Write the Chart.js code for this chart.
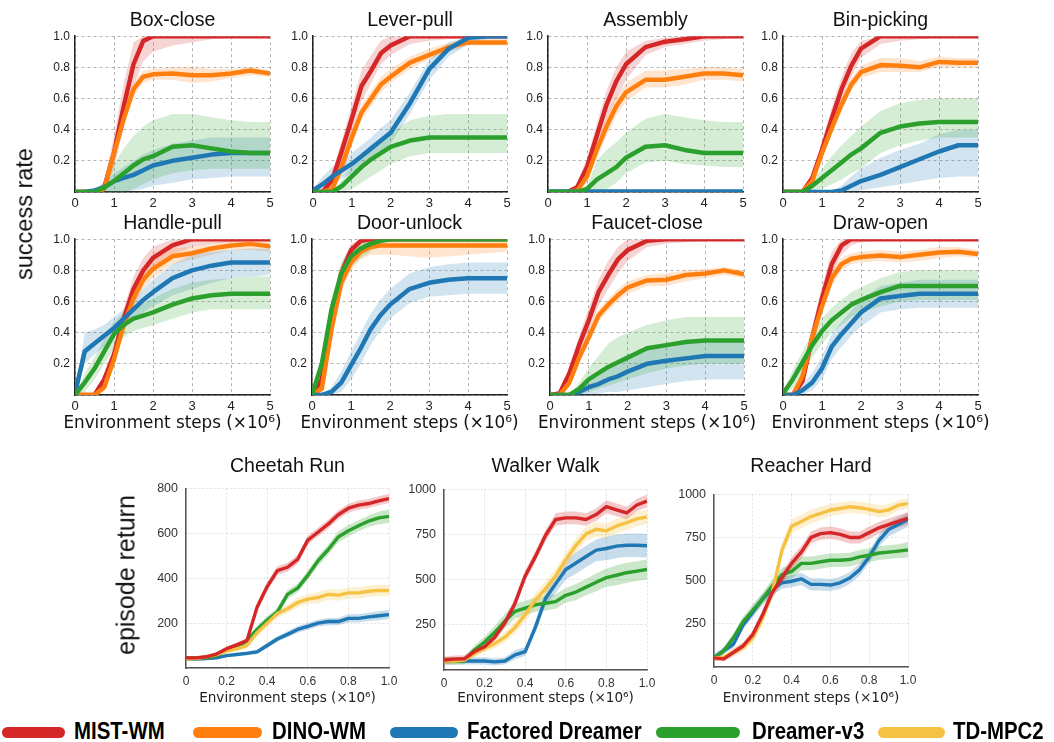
<!DOCTYPE html>
<html><head><meta charset="utf-8">
<script src="https://cdn.jsdelivr.net/npm/chart.js@4.4.1/dist/chart.umd.min.js"></script>
<style>
html,body{margin:0;padding:0;background:#fff;width:1054px;height:742px;overflow:hidden;position:relative;font-family:'Liberation Sans',Arial,sans-serif;}
.box{position:absolute;}
.t{position:absolute;white-space:nowrap;color:#111;line-height:1;transform:translate(-50%,-50%);}
.lg{position:absolute;height:11px;border-radius:6px;top:727px;}
.lt{position:absolute;top:719px;font-weight:bold;font-size:24px;line-height:24px;white-space:nowrap;transform:scaleX(0.85);transform-origin:left center;color:#000;}
</style></head><body>
<script>
// ---------------- DATA ----------------
const TOP_X = [0,0.25,0.5,0.75,1,1.25,1.5,1.75,2,2.5,3,3.5,4,4.5,5];
const TOP_X_TICKS = [0,1,2,3,4,5];
const TOP_X_LABELS = ['0','1','2','3','4','5'];
const TOP_Y_TICKS = [0,0.2,0.4,0.6,0.8,1.0];
const TOP_Y_LABELS = ['','0.2','0.4','0.6','0.8','1.0'];

// Box-close
const boxClose_MIST    = [0,0,0,0.03,0.25,0.55,0.82,0.97,1,1,1,1,1,1,1];
const boxClose_MIST_lo = [0,0,0,0,0.15,0.42,0.68,0.84,0.9,0.94,0.96,0.98,0.99,1,1];
const boxClose_MIST_hi = [0,0,0,0.07,0.36,0.7,0.96,1,1,1,1,1,1,1,1];
const boxClose_DINO    = [0,0,0,0.02,0.25,0.47,0.66,0.74,0.755,0.76,0.75,0.75,0.76,0.78,0.76];
const boxClose_DINO_lo = [0,0,0,0,0.2,0.42,0.61,0.7,0.72,0.72,0.7,0.71,0.73,0.75,0.74];
const boxClose_DINO_hi = [0,0,0,0.04,0.3,0.52,0.7,0.78,0.79,0.8,0.8,0.79,0.79,0.8,0.78];
const boxClose_FD      = [0,0,0.01,0.03,0.07,0.09,0.11,0.14,0.17,0.2,0.22,0.24,0.25,0.25,0.25];
const boxClose_FD_lo   = [0,0,0,0,0,0,0.01,0.02,0.04,0.06,0.08,0.09,0.1,0.1,0.1];
const boxClose_FD_hi   = [0,0,0.02,0.06,0.12,0.16,0.2,0.24,0.27,0.31,0.33,0.35,0.35,0.35,0.35];
const boxClose_DV3     = [0,0,0,0.03,0.07,0.12,0.17,0.21,0.23,0.29,0.3,0.28,0.26,0.25,0.25];
const boxClose_DV3_lo  = [0,0,0,0,0,0,0.02,0.05,0.08,0.12,0.14,0.15,0.15,0.15,0.15];
const boxClose_DV3_hi  = [0,0,0,0.06,0.18,0.28,0.36,0.42,0.46,0.5,0.5,0.48,0.46,0.45,0.45];

// Lever-pull
const leverPull_MIST    = [0,0,0.08,0.27,0.47,0.68,0.78,0.89,0.94,1,1,1,1,1,1];
const leverPull_MIST_lo = [0,0,0.04,0.2,0.38,0.58,0.7,0.82,0.88,0.95,0.97,0.98,0.99,1,1];
const leverPull_MIST_hi = [0,0.02,0.13,0.34,0.56,0.78,0.88,0.97,1,1,1,1,1,1,1];
const leverPull_DINO    = [0,0,0.02,0.17,0.35,0.51,0.6,0.69,0.74,0.83,0.88,0.93,0.96,0.96,0.96];
const leverPull_DINO_lo = [0,0,0,0.12,0.3,0.46,0.55,0.64,0.7,0.79,0.85,0.9,0.94,0.94,0.94];
const leverPull_DINO_hi = [0,0,0.05,0.22,0.4,0.56,0.65,0.74,0.79,0.87,0.92,0.96,0.98,0.98,0.98];
const leverPull_FD      = [0.01,0.05,0.1,0.14,0.18,0.23,0.28,0.33,0.38,0.57,0.79,0.92,0.99,1,1];
const leverPull_FD_lo   = [0,0.01,0.05,0.09,0.12,0.17,0.21,0.26,0.31,0.5,0.72,0.87,0.95,0.98,0.98];
const leverPull_FD_hi   = [0.02,0.1,0.16,0.2,0.25,0.3,0.35,0.41,0.46,0.64,0.85,0.96,1,1,1];
const leverPull_DV3     = [0,0,0,0.04,0.1,0.16,0.21,0.25,0.29,0.33,0.35,0.35,0.35,0.35,0.35];
const leverPull_DV3_lo  = [0,0,0,0,0.02,0.06,0.1,0.14,0.18,0.23,0.25,0.25,0.25,0.25,0.25];
const leverPull_DV3_hi  = [0,0,0,0.08,0.17,0.24,0.3,0.34,0.38,0.46,0.49,0.5,0.5,0.5,0.5];

// Assembly
const assembly_MIST    = [0,0,0,0.03,0.16,0.36,0.56,0.71,0.82,0.93,0.965,0.98,1,1,1];
const assembly_MIST_lo = [0,0,0,0.01,0.1,0.28,0.46,0.6,0.72,0.88,0.93,0.95,0.97,0.98,0.99];
const assembly_MIST_hi = [0,0,0,0.06,0.22,0.44,0.65,0.8,0.9,0.97,0.99,1,1,1,1];
const assembly_DINO    = [0,0,0,0.01,0.1,0.27,0.42,0.55,0.64,0.72,0.72,0.74,0.76,0.76,0.75];
const assembly_DINO_lo = [0,0,0,0,0.06,0.22,0.36,0.49,0.58,0.67,0.67,0.69,0.72,0.72,0.71];
const assembly_DINO_hi = [0,0,0,0.02,0.14,0.32,0.48,0.61,0.7,0.78,0.78,0.79,0.8,0.8,0.79];
const assembly_FD      = [0.004,0.004,0.004,0.004,0.004,0.004,0.004,0.004,0.004,0.004,0.004,0.004,0.004,0.004,0.004];
const assembly_FD_lo   = [0,0,0,0,0,0,0,0,0,0,0,0,0,0,0];
const assembly_FD_hi   = [0.008,0.008,0.008,0.008,0.008,0.008,0.008,0.008,0.008,0.008,0.008,0.008,0.008,0.008,0.008];
const assembly_DV3     = [0,0,0,0,0.02,0.08,0.12,0.16,0.22,0.29,0.3,0.27,0.25,0.25,0.25];
const assembly_DV3_lo  = [0,0,0,0,0,0,0.02,0.06,0.12,0.19,0.2,0.18,0.17,0.16,0.16];
const assembly_DV3_hi  = [0,0,0,0,0.04,0.2,0.27,0.32,0.38,0.47,0.5,0.48,0.46,0.45,0.45];

// Bin-picking
const binPicking_MIST    = [0,0,0,0.09,0.27,0.47,0.66,0.81,0.92,1,1,1,1,1,1];
const binPicking_MIST_lo = [0,0,0,0.06,0.22,0.41,0.59,0.74,0.86,0.95,0.97,0.98,0.99,1,1];
const binPicking_MIST_hi = [0,0,0,0.12,0.33,0.54,0.74,0.89,0.97,1,1,1,1,1,1];
const binPicking_DINO    = [0,0,0,0.07,0.25,0.41,0.56,0.69,0.77,0.815,0.81,0.8,0.835,0.83,0.83];
const binPicking_DINO_lo = [0,0,0,0.04,0.21,0.37,0.52,0.65,0.73,0.77,0.77,0.77,0.8,0.8,0.8];
const binPicking_DINO_hi = [0,0,0,0.1,0.29,0.45,0.6,0.73,0.81,0.86,0.86,0.84,0.87,0.86,0.86];
const binPicking_FD      = [0,0,0,0,0,0,0.01,0.04,0.07,0.11,0.16,0.21,0.26,0.3,0.3];
const binPicking_FD_lo   = [0,0,0,0,0,0,0,0,0.01,0.03,0.05,0.07,0.09,0.1,0.1];
const binPicking_FD_hi   = [0,0,0,0,0,0,0.04,0.1,0.15,0.22,0.27,0.31,0.37,0.4,0.4];
const binPicking_DV3     = [0,0,0,0.04,0.09,0.14,0.19,0.24,0.28,0.38,0.42,0.44,0.45,0.45,0.45];
const binPicking_DV3_lo  = [0,0,0,0.01,0.02,0.05,0.08,0.12,0.15,0.25,0.3,0.33,0.35,0.35,0.35];
const binPicking_DV3_hi  = [0,0,0,0.07,0.15,0.23,0.3,0.36,0.42,0.52,0.57,0.59,0.6,0.6,0.6];

// Handle-pull
const handlePull_MIST    = [0,0,0,0.1,0.26,0.49,0.68,0.8,0.88,0.96,1,1,1,1,1];
const handlePull_MIST_lo = [0,0,0,0.06,0.2,0.42,0.6,0.72,0.8,0.9,0.95,0.97,0.98,0.99,1];
const handlePull_MIST_hi = [0,0,0,0.14,0.32,0.56,0.76,0.88,0.95,1,1,1,1,1,1];
const handlePull_DINO    = [0,0,0,0.05,0.23,0.45,0.62,0.74,0.81,0.89,0.91,0.94,0.96,0.97,0.955];
const handlePull_DINO_lo = [0,0,0,0.02,0.18,0.4,0.56,0.68,0.75,0.84,0.87,0.9,0.93,0.93,0.92];
const handlePull_DINO_hi = [0,0,0,0.09,0.28,0.5,0.68,0.8,0.87,0.94,0.95,0.97,0.99,1,0.99];
const handlePull_FD      = [0.01,0.28,0.33,0.38,0.43,0.49,0.55,0.61,0.66,0.75,0.8,0.83,0.85,0.85,0.85];
const handlePull_FD_lo   = [0,0.2,0.26,0.31,0.37,0.43,0.48,0.53,0.57,0.64,0.68,0.72,0.75,0.76,0.77];
const handlePull_FD_hi   = [0.02,0.4,0.42,0.45,0.5,0.55,0.61,0.68,0.74,0.84,0.9,0.92,0.93,0.94,0.94];
const handlePull_DV3     = [0,0.08,0.17,0.28,0.39,0.45,0.49,0.51,0.53,0.58,0.62,0.64,0.65,0.65,0.65];
const handlePull_DV3_lo  = [0,0.02,0.1,0.2,0.3,0.37,0.41,0.43,0.45,0.49,0.53,0.55,0.55,0.55,0.55];
const handlePull_DV3_hi  = [0,0.14,0.24,0.36,0.47,0.53,0.57,0.59,0.62,0.68,0.72,0.74,0.75,0.76,0.76];

// Door-unlock
const doorUnlock_MIST    = [0,0.1,0.5,0.78,0.93,0.99,1,1,1,1,1,1,1,1,1];
const doorUnlock_MIST_lo = [0,0.06,0.44,0.72,0.88,0.96,0.98,0.99,1,1,1,1,1,1,1];
const doorUnlock_MIST_hi = [0,0.14,0.56,0.84,0.97,1,1,1,1,1,1,1,1,1,1];
const doorUnlock_DINO    = [0,0.04,0.42,0.72,0.85,0.92,0.95,0.96,0.96,0.96,0.96,0.96,0.96,0.96,0.96];
const doorUnlock_DINO_lo = [0,0.02,0.36,0.66,0.8,0.87,0.9,0.9,0.9,0.89,0.88,0.89,0.9,0.91,0.92];
const doorUnlock_DINO_hi = [0,0.07,0.48,0.78,0.9,0.96,0.99,1,1,1,1,1,1,1,1];
const doorUnlock_FD      = [0,0,0.02,0.08,0.19,0.3,0.42,0.51,0.58,0.68,0.72,0.74,0.75,0.75,0.75];
const doorUnlock_FD_lo   = [0,0,0,0.02,0.1,0.2,0.32,0.41,0.49,0.59,0.63,0.64,0.65,0.65,0.65];
const doorUnlock_FD_hi   = [0,0,0.05,0.15,0.28,0.4,0.52,0.61,0.68,0.78,0.82,0.84,0.85,0.85,0.85];
const doorUnlock_DV3     = [0,0.2,0.55,0.78,0.89,0.94,0.97,0.99,1,1,1,1,1,1,1];
const doorUnlock_DV3_lo  = [0,0.15,0.48,0.7,0.82,0.88,0.92,0.96,0.99,1,1,1,1,1,1];
const doorUnlock_DV3_hi  = [0,0.25,0.62,0.85,0.95,0.99,1,1,1,1,1,1,1,1,1];

// Faucet-close
const faucetClose_MIST    = [0,0.01,0.14,0.32,0.48,0.66,0.77,0.87,0.93,0.99,1,1,1,1,1];
const faucetClose_MIST_lo = [0,0,0.1,0.26,0.4,0.57,0.68,0.78,0.86,0.95,0.97,0.98,0.99,1,1];
const faucetClose_MIST_hi = [0,0.03,0.18,0.38,0.56,0.74,0.86,0.95,1,1,1,1,1,1,1];
const faucetClose_DINO    = [0,0,0.08,0.24,0.37,0.51,0.58,0.64,0.69,0.735,0.74,0.77,0.78,0.8,0.775];
const faucetClose_DINO_lo = [0,0,0.05,0.2,0.33,0.47,0.54,0.6,0.65,0.7,0.7,0.73,0.75,0.77,0.75];
const faucetClose_DINO_hi = [0,0,0.11,0.28,0.41,0.55,0.62,0.68,0.73,0.77,0.78,0.8,0.81,0.82,0.8];
const faucetClose_FD      = [0,0,0,0.02,0.05,0.07,0.1,0.12,0.15,0.2,0.22,0.235,0.25,0.25,0.25];
const faucetClose_FD_lo   = [0,0,0,0,0,0.01,0.02,0.02,0.03,0.05,0.07,0.09,0.1,0.1,0.1];
const faucetClose_FD_hi   = [0,0,0,0.04,0.08,0.12,0.17,0.21,0.24,0.29,0.32,0.34,0.35,0.35,0.35];
const faucetClose_DV3     = [0,0,0,0.04,0.1,0.14,0.18,0.21,0.24,0.3,0.32,0.34,0.35,0.35,0.35];
const faucetClose_DV3_lo  = [0,0,0,0,0.02,0.04,0.06,0.08,0.1,0.14,0.17,0.19,0.2,0.2,0.2];
const faucetClose_DV3_hi  = [0,0,0,0.08,0.17,0.25,0.33,0.37,0.4,0.45,0.48,0.5,0.5,0.5,0.5];

// Draw-open
const drawOpen_MIST    = [0,0,0.09,0.37,0.62,0.84,0.96,1,1,1,1,1,1,1,1];
const drawOpen_MIST_lo = [0,0,0.05,0.3,0.55,0.77,0.9,0.96,0.98,0.99,1,1,1,1,1];
const drawOpen_MIST_hi = [0,0.01,0.14,0.44,0.7,0.92,1,1,1,1,1,1,1,1,1];
const drawOpen_DINO    = [0,0,0.12,0.37,0.57,0.75,0.84,0.875,0.885,0.895,0.885,0.9,0.915,0.92,0.905];
const drawOpen_DINO_lo = [0,0,0.08,0.32,0.52,0.7,0.8,0.84,0.85,0.86,0.85,0.86,0.88,0.89,0.88];
const drawOpen_DINO_hi = [0,0,0.16,0.42,0.62,0.8,0.88,0.91,0.92,0.93,0.92,0.93,0.95,0.95,0.93];
const drawOpen_FD      = [0,0,0.03,0.08,0.17,0.31,0.39,0.46,0.53,0.62,0.635,0.65,0.65,0.65,0.65];
const drawOpen_FD_lo   = [0,0,0,0.03,0.1,0.23,0.31,0.38,0.44,0.53,0.55,0.56,0.56,0.56,0.56];
const drawOpen_FD_hi   = [0,0.02,0.07,0.14,0.25,0.39,0.47,0.54,0.61,0.7,0.72,0.74,0.74,0.74,0.74];
const drawOpen_DV3     = [0.01,0.1,0.21,0.32,0.41,0.48,0.53,0.58,0.61,0.66,0.7,0.7,0.7,0.7,0.7];
const drawOpen_DV3_lo  = [0,0.04,0.14,0.24,0.33,0.4,0.45,0.5,0.53,0.57,0.6,0.61,0.61,0.61,0.61];
const drawOpen_DV3_hi  = [0.02,0.16,0.28,0.4,0.49,0.56,0.61,0.66,0.69,0.75,0.79,0.8,0.8,0.8,0.8];

// Bottom (DMC) panels
const BOT_X = [0,0.05,0.1,0.15,0.2,0.25,0.3,0.35,0.4,0.45,0.5,0.55,0.6,0.65,0.7,0.75,0.8,0.85,0.9,0.95,1.0];
const BOT_X_TICKS = [0,0.2,0.4,0.6,0.8,1.0];
const BOT_X_LABELS = ['0','0.2','0.4','0.6','0.8','1.0'];
const CHEETAH_Y_TICKS = [0,200,400,600,800];
const CHEETAH_Y_LABELS = ['','200','400','600','800'];
const DMC_Y_TICKS = [0,250,500,750,1000];
const DMC_Y_LABELS = ['','250','500','750','1000'];

const cheetah_MIST     = [45,45,50,62,86,103,122,271,363,434,449,484,570,605,641,683,712,726,733,745,755];
const cheetah_MIST_sd  = [8,8,8,8,10,10,12,18,20,20,20,20,20,20,20,20,20,20,20,20,20];
const cheetah_DV3      = [45,45,45,55,79,90,122,172,214,250,328,356,413,477,527,584,612,634,655,669,676];
const cheetah_DV3_sd   = [8,8,8,8,8,10,12,15,18,18,20,20,20,22,22,25,25,25,25,28,30];
const cheetah_TD       = [40,42,50,60,75,85,100,157,200,243,264,292,307,314,328,325,335,335,342,346,345];
const cheetah_TD_sd    = [8,8,8,8,8,10,10,15,18,20,20,22,22,25,25,25,25,25,25,25,25];
const cheetah_FD       = [40,40,42,45,55,60,65,72,100,129,150,172,186,200,207,207,221,221,228,233,238];
const cheetah_FD_sd    = [6,6,6,6,6,8,8,10,12,12,14,15,15,15,16,16,18,18,18,20,20];

const walker_MIST      = [55,60,62,102,129,182,262,370,521,628,745,834,843,843,834,861,905,887,870,914,936];
const walker_MIST_sd   = [20,20,20,20,20,20,25,30,30,30,30,35,35,35,35,35,35,35,35,35,35];
const walker_TD        = [50,50,55,90,120,146,182,236,307,387,450,521,611,691,754,780,771,798,816,837,848];
const walker_TD_sd     = [20,20,20,20,20,25,30,35,40,40,40,40,40,40,40,40,40,40,40,40,40];
const walker_FD        = [50,50,50,50,50,45,50,84,102,236,396,477,557,593,629,664,673,686,691,691,688];
const walker_FD_sd     = [20,20,20,20,20,20,20,25,25,30,40,50,55,60,60,60,65,65,65,65,65];
const walker_DV3       = [50,50,52,111,155,209,271,325,343,361,370,379,414,432,459,486,512,525,539,548,557];
const walker_DV3_sd    = [20,20,20,25,30,35,40,40,40,40,40,40,40,45,45,50,50,55,55,55,55];

const reacher_TD       = [53,57,85,113,169,282,432,676,816,844,872,891,910,919,929,923,914,901,910,938,947];
const reacher_TD_sd    = [20,20,25,25,30,35,40,40,40,40,40,40,35,35,35,35,35,35,35,30,30];
const reacher_MIST     = [53,47,85,122,188,301,432,516,601,666,751,773,779,769,751,751,779,807,826,844,863];
const reacher_MIST_sd  = [15,15,20,20,25,30,35,35,35,35,35,35,35,35,35,35,35,35,35,35,35];
const reacher_FD       = [55,94,132,244,319,394,451,488,497,511,479,479,475,488,516,563,638,732,797,826,854];
const reacher_FD_sd    = [20,20,20,25,30,30,35,35,35,35,35,35,35,35,35,35,35,35,40,40,40];
const reacher_DV3      = [50,94,169,263,329,394,469,535,554,601,601,610,619,619,623,638,648,661,666,672,679];
const reacher_DV3_sd   = [20,20,25,30,35,35,40,40,40,40,40,40,40,40,40,40,40,40,40,40,45];

const LEGEND_NAMES = ['MIST-WM','DINO-WM','Factored Dreamer','Dreamer-v3','TD-MPC2'];
const COLORS = {MIST:'#d62728', DINO:'#ff7f0e', FD:'#1f77b4', DV3:'#2ca02c', TD:'#f6c244'};
const LEGEND_COLORS = [COLORS.MIST, COLORS.DINO, COLORS.FD, COLORS.DV3, COLORS.TD];

// ---------------- HELPERS ----------------
function rgba(hex, a){
  const n = parseInt(hex.slice(1),16);
  return `rgba(${(n>>16)&255},${(n>>8)&255},${n&255},${a})`;
}
function pts(xs, ys){ return xs.map((x,i)=>({x:x, y:ys[i]})); }

function buildDatasets(xs, series, lineW, bandAlpha){
  const ds = [];
  series.forEach(s=>{
    const loIdx = ds.length;
    ds.push({data:pts(xs,s.lo), borderColor:'transparent', backgroundColor:'transparent', borderWidth:0, pointRadius:0, fill:false, order:50+s.order});
    ds.push({data:pts(xs,s.hi), borderColor:'transparent', backgroundColor:rgba(s.color,bandAlpha), borderWidth:0, pointRadius:0, fill:loIdx, order:50+s.order});
  });
  series.forEach(s=>{
    ds.push({data:pts(xs,s.mean), borderColor:s.color, borderWidth:lineW, pointRadius:0, fill:false, tension:0, borderJoinStyle:'round', borderCapStyle:'butt', order:s.order});
  });
  return ds;
}

function addText(txt, cx, cy, css){
  const d = document.createElement('div');
  d.className = 't';
  d.textContent = txt;
  d.style.left = cx+'px'; d.style.top = cy+'px';
  Object.assign(d.style, css||{});
  document.body.appendChild(d);
  return d;
}

function makePanel(p){
  const div = document.createElement('div');
  div.className = 'box';
  const W = p.right - p.left + p.yW + p.padR;
  const H = p.bottom - p.top + p.padT + p.xH;
  div.style.left = (p.left - p.yW)+'px';
  div.style.top = (p.top - p.padT)+'px';
  div.style.width = W+'px';
  div.style.height = H+'px';
  const cv = document.createElement('canvas');
  div.appendChild(cv);
  document.body.appendChild(div);
  const st = p.style;
  new Chart(cv, {
    type:'line',
    data:{datasets:p.datasets},
    options:{
      responsive:true, maintainAspectRatio:false, animation:false, events:[],
      layout:{padding:{top:p.padT, right:p.padR, left:0, bottom:0}},
      plugins:{legend:{display:false}, tooltip:{enabled:false}, title:{display:false}},
      scales:{
        x:{type:'linear', min:p.xMin, max:p.xMax,
           afterBuildTicks:s=>{ s.ticks = p.xTicks.map(v=>({value:v})); },
           afterFit:s=>{ s.height = p.xH; },
           ticks:{autoSkip:false, maxRotation:0, padding:st.xPad, color:st.tickColor,
                  font:{family:st.tickFamily, size:st.xTickSize},
                  callback:(v,i)=>p.xLabels[i]},
           grid:{color:st.gridColor, lineWidth:1, drawTicks:false},
           border:{display:true, color:st.axisColor, width:st.axisWidth, dash:st.gridDash}},
        y:{type:'linear', min:p.yMin, max:p.yMax,
           afterBuildTicks:s=>{ s.ticks = p.yTicks.map(v=>({value:v})); },
           afterFit:s=>{ s.width = p.yW; },
           ticks:{autoSkip:false, padding:st.yPad, color:st.tickColor,
                  font:{family:st.tickFamily, size:st.yTickSize},
                  callback:(v,i)=>p.yLabels[i]},
           grid:{color:st.gridColor, lineWidth:1, drawTicks:false},
           border:{display:true, color:st.axisColor, width:st.axisWidth, dash:st.gridDash}}
      }
    }
  });
}

const TOP_STYLE = {xPad:4, yPad:5, tickColor:'#222', tickFamily:"'Liberation Sans', Arial, sans-serif",
  xTickSize:13, yTickSize:12, gridColor:'#b3b3b3', gridDash:[3,3], axisColor:'#222', axisWidth:1.5};
const BOT_STYLE = {xPad:6, yPad:8, tickColor:'#333', tickFamily:"'Liberation Sans', Arial, sans-serif",
  xTickSize:12, yTickSize:12.5, gridColor:'#dedede', gridDash:[2,2], axisColor:'#555', axisWidth:1.5};

const TOP_DATA = {
  boxClose:{MIST:boxClose_MIST,MIST_lo:boxClose_MIST_lo,MIST_hi:boxClose_MIST_hi,DINO:boxClose_DINO,DINO_lo:boxClose_DINO_lo,DINO_hi:boxClose_DINO_hi,FD:boxClose_FD,FD_lo:boxClose_FD_lo,FD_hi:boxClose_FD_hi,DV3:boxClose_DV3,DV3_lo:boxClose_DV3_lo,DV3_hi:boxClose_DV3_hi},
  leverPull:{MIST:leverPull_MIST,MIST_lo:leverPull_MIST_lo,MIST_hi:leverPull_MIST_hi,DINO:leverPull_DINO,DINO_lo:leverPull_DINO_lo,DINO_hi:leverPull_DINO_hi,FD:leverPull_FD,FD_lo:leverPull_FD_lo,FD_hi:leverPull_FD_hi,DV3:leverPull_DV3,DV3_lo:leverPull_DV3_lo,DV3_hi:leverPull_DV3_hi},
  assembly:{MIST:assembly_MIST,MIST_lo:assembly_MIST_lo,MIST_hi:assembly_MIST_hi,DINO:assembly_DINO,DINO_lo:assembly_DINO_lo,DINO_hi:assembly_DINO_hi,FD:assembly_FD,FD_lo:assembly_FD_lo,FD_hi:assembly_FD_hi,DV3:assembly_DV3,DV3_lo:assembly_DV3_lo,DV3_hi:assembly_DV3_hi},
  binPicking:{MIST:binPicking_MIST,MIST_lo:binPicking_MIST_lo,MIST_hi:binPicking_MIST_hi,DINO:binPicking_DINO,DINO_lo:binPicking_DINO_lo,DINO_hi:binPicking_DINO_hi,FD:binPicking_FD,FD_lo:binPicking_FD_lo,FD_hi:binPicking_FD_hi,DV3:binPicking_DV3,DV3_lo:binPicking_DV3_lo,DV3_hi:binPicking_DV3_hi},
  handlePull:{MIST:handlePull_MIST,MIST_lo:handlePull_MIST_lo,MIST_hi:handlePull_MIST_hi,DINO:handlePull_DINO,DINO_lo:handlePull_DINO_lo,DINO_hi:handlePull_DINO_hi,FD:handlePull_FD,FD_lo:handlePull_FD_lo,FD_hi:handlePull_FD_hi,DV3:handlePull_DV3,DV3_lo:handlePull_DV3_lo,DV3_hi:handlePull_DV3_hi},
  doorUnlock:{MIST:doorUnlock_MIST,MIST_lo:doorUnlock_MIST_lo,MIST_hi:doorUnlock_MIST_hi,DINO:doorUnlock_DINO,DINO_lo:doorUnlock_DINO_lo,DINO_hi:doorUnlock_DINO_hi,FD:doorUnlock_FD,FD_lo:doorUnlock_FD_lo,FD_hi:doorUnlock_FD_hi,DV3:doorUnlock_DV3,DV3_lo:doorUnlock_DV3_lo,DV3_hi:doorUnlock_DV3_hi},
  faucetClose:{MIST:faucetClose_MIST,MIST_lo:faucetClose_MIST_lo,MIST_hi:faucetClose_MIST_hi,DINO:faucetClose_DINO,DINO_lo:faucetClose_DINO_lo,DINO_hi:faucetClose_DINO_hi,FD:faucetClose_FD,FD_lo:faucetClose_FD_lo,FD_hi:faucetClose_FD_hi,DV3:faucetClose_DV3,DV3_lo:faucetClose_DV3_lo,DV3_hi:faucetClose_DV3_hi},
  drawOpen:{MIST:drawOpen_MIST,MIST_lo:drawOpen_MIST_lo,MIST_hi:drawOpen_MIST_hi,DINO:drawOpen_DINO,DINO_lo:drawOpen_DINO_lo,DINO_hi:drawOpen_DINO_hi,FD:drawOpen_FD,FD_lo:drawOpen_FD_lo,FD_hi:drawOpen_FD_hi,DV3:drawOpen_DV3,DV3_lo:drawOpen_DV3_lo,DV3_hi:drawOpen_DV3_hi}
};
function topSeriesFrom(d){
  return [
    {color:COLORS.MIST, mean:d.MIST, lo:d.MIST_lo, hi:d.MIST_hi, order:4},
    {color:COLORS.DINO, mean:d.DINO, lo:d.DINO_lo, hi:d.DINO_hi, order:3},
    {color:COLORS.FD,   mean:d.FD,   lo:d.FD_lo,   hi:d.FD_hi,   order:2},
    {color:COLORS.DV3,  mean:d.DV3,  lo:d.DV3_lo,  hi:d.DV3_hi,  order:1}
  ];
}
function botSeries(mean, sd, color, order){
  return {color, mean, lo:mean.map((m,i)=>m-sd[i]), hi:mean.map((m,i)=>m+sd[i]), order};
}

// ---------------- TOP PANELS ----------------
const TOP_PANELS = [
  {key:'boxClose',   title:'Box-close',    left:75,  right:270, top:34,  bottom:192},
  {key:'leverPull',  title:'Lever-pull',   left:313, right:507, top:34,  bottom:192},
  {key:'assembly',   title:'Assembly',     left:548, right:743, top:34,  bottom:192},
  {key:'binPicking', title:'Bin-picking',  left:783, right:978, top:34,  bottom:192},
  {key:'handlePull', title:'Handle-pull',  left:75,  right:270, top:237, bottom:395},
  {key:'doorUnlock', title:'Door-unlock',  left:312, right:507, top:237, bottom:395},
  {key:'faucetClose',title:'Faucet-close', left:550, right:744, top:237, bottom:395},
  {key:'drawOpen',   title:'Draw-open',    left:783, right:978, top:237, bottom:395}
];
TOP_PANELS.forEach((tp, idx)=>{
  makePanel({left:tp.left, right:tp.right, top:tp.top, bottom:tp.bottom, yW:44, xH:22, padT:10, padR:14,
    xMin:0, xMax:5, xTicks:TOP_X_TICKS, xLabels:TOP_X_LABELS,
    yMin:0, yMax:1, yTicks:TOP_Y_TICKS, yLabels:TOP_Y_LABELS,
    style:TOP_STYLE,
    datasets:buildDatasets(TOP_X, topSeriesFrom(TOP_DATA[tp.key]), 4.5, 0.2)});
  addText(tp.title, (tp.left+tp.right)/2, tp.top - 13.7, {fontSize:'19.5px', fontFamily:"'Liberation Sans', Arial, sans-serif"});
  if (idx >= 4) addText('Environment steps (×10⁶)', (tp.left+tp.right)/2, 422, {fontSize:'16.8px', fontFamily:"'DejaVu Sans', sans-serif"});
});
addText('success rate', 25, 214, {fontSize:'23.5px', transform:'translate(-50%,-50%) rotate(-90deg)'});

// ---------------- BOTTOM PANELS ----------------
const BOT_PANELS = [
  {title:'Cheetah Run', left:186, right:389, top:483, bottom:668, yMax:800, yTicks:CHEETAH_Y_TICKS, yLabels:CHEETAH_Y_LABELS,
   series:[botSeries(cheetah_MIST,cheetah_MIST_sd,COLORS.MIST,1), botSeries(cheetah_TD,cheetah_TD_sd,COLORS.TD,2),
           botSeries(cheetah_DV3,cheetah_DV3_sd,COLORS.DV3,3), botSeries(cheetah_FD,cheetah_FD_sd,COLORS.FD,4)]},
  {title:'Walker Walk', left:444, right:647, top:484, bottom:670, yMax:1000, yTicks:DMC_Y_TICKS, yLabels:DMC_Y_LABELS,
   series:[botSeries(walker_MIST,walker_MIST_sd,COLORS.MIST,1), botSeries(walker_TD,walker_TD_sd,COLORS.TD,2),
           botSeries(walker_DV3,walker_DV3_sd,COLORS.DV3,3), botSeries(walker_FD,walker_FD_sd,COLORS.FD,4)]},
  {title:'Reacher Hard', left:714, right:908, top:489, bottom:667, yMax:1000, yTicks:DMC_Y_TICKS, yLabels:DMC_Y_LABELS,
   series:[botSeries(reacher_MIST,reacher_MIST_sd,COLORS.MIST,1), botSeries(reacher_TD,reacher_TD_sd,COLORS.TD,2),
           botSeries(reacher_DV3,reacher_DV3_sd,COLORS.DV3,3), botSeries(reacher_FD,reacher_FD_sd,COLORS.FD,4)]}
];
BOT_PANELS.forEach((bp)=>{
  makePanel({left:bp.left, right:bp.right, top:bp.top, bottom:bp.bottom, yW:50, xH:26, padT:10, padR:16,
    xMin:0, xMax:1, xTicks:BOT_X_TICKS, xLabels:BOT_X_LABELS,
    yMin:0, yMax:bp.yMax, yTicks:bp.yTicks, yLabels:bp.yLabels,
    style:BOT_STYLE,
    datasets:buildDatasets(BOT_X, bp.series, 3.4, 0.25)});
  addText(bp.title, (bp.left+bp.right)/2, 466, {fontSize:'19.5px'});
  addText('Environment steps (×10⁶)', (bp.left+bp.right)/2, 698, {fontSize:'13.6px', fontFamily:"'DejaVu Sans', sans-serif", color:'#222'});
});
addText('episode return', 126, 575, {fontSize:'25px', transform:'translate(-50%,-50%) rotate(-90deg)'});

// ---------------- LEGEND ----------------
const LEG_LINE_X = [2,193,390,656,878];
const LEG_LINE_W = [63,69,68,84,67];
const LEG_TEXT_X = [74,272,467,752,953];
LEGEND_NAMES.forEach((name,i)=>{
  const l = document.createElement('div');
  l.className = 'lg';
  l.style.left = LEG_LINE_X[i]+'px'; l.style.width = LEG_LINE_W[i]+'px';
  l.style.background = LEGEND_COLORS[i];
  document.body.appendChild(l);
  const t = document.createElement('div');
  t.className = 'lt';
  t.style.left = LEG_TEXT_X[i]+'px';
  t.textContent = name;
  document.body.appendChild(t);
});
</script>
</body></html>
